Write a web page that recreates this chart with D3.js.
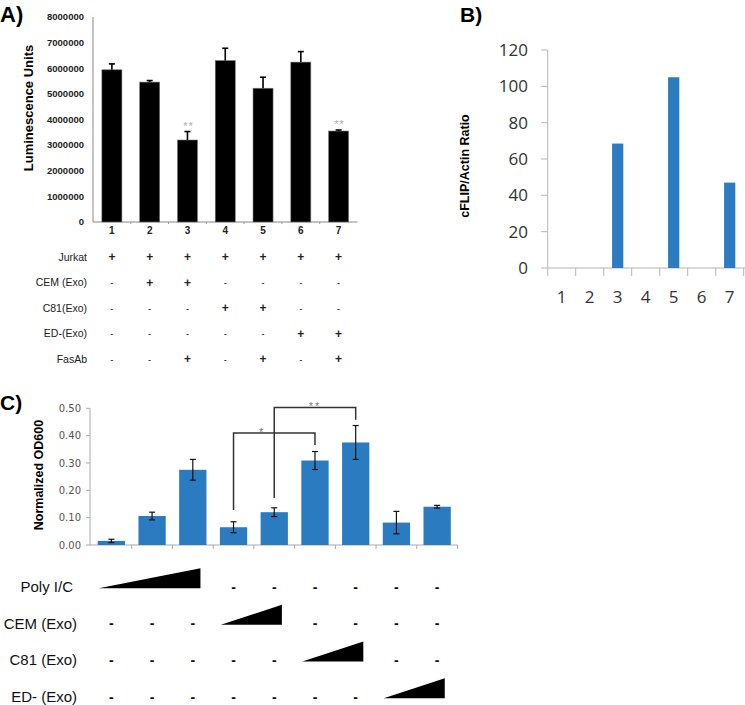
<!DOCTYPE html>
<html><head><meta charset="utf-8">
<script src="https://cdn.jsdelivr.net/npm/d3@7"></script>
<style>body{margin:0;background:#fff}svg{display:block}</style></head>
<body><svg id="c" width="745" height="705"></svg>
<script>
// ---------- Panel A data ----------
const aCats = ["1","2","3","4","5","6","7"];
const aValues = [5940000,5460000,3200000,6300000,5220000,6240000,3550000];
const aErrors = [230000,60000,330000,480000,430000,410000,40000];
const aYTicks = [0,1000000,2000000,3000000,4000000,5000000,6000000,7000000,8000000];
const aSig = ["","","**","","","","**"];
const aRowLabels = ["Jurkat","CEM (Exo)","C81(Exo)","ED-(Exo)","FasAb"];
const aRowJurkat = ["+","+","+","+","+","+","+"];
const aRowCEM    = ["-","+","+","-","-","-","-"];
const aRowC81    = ["-","-","-","+","+","-","-"];
const aRowED     = ["-","-","-","-","-","+","+"];
const aRowFas    = ["-","-","+","-","+","-","+"];

// ---------- Panel B data ----------
const bCats = ["1","2","3","4","5","6","7"];
const bValues = [0,0,68.5,0,105,0,47];
const bYTicks = [0,20,40,60,80,100,120];

// ---------- Panel C data ----------
const cCats = [0,1,2,3,4,5,6,7,8];
const cValues = [0.015,0.106,0.275,0.065,0.120,0.309,0.375,0.082,0.140];
const cErrors = [0.006,0.014,0.038,0.020,0.016,0.033,0.062,0.041,0.005];
const cYTicks = [0,0.1,0.2,0.3,0.4,0.5];
const cRowLabels = ["Poly I/C","CEM (Exo)","C81 (Exo)","ED- (Exo)"];
const cRampFirst = [0,3,5,7];
const cRampLast  = [2,4,6,8];
const cBracketFrom = [3,4];
const cBracketTo   = [5,6];
const cBracketTop  = [0.41,0.503];
const cBracketLeftEnd  = [0.128,0.172];
const cBracketRightEnd = [0.366,0.458];
const cBracketLabel = ["*","**"];

const svg = d3.select("#c");
const SANS = "'Liberation Sans', Arial, sans-serif";

// ================= Panel A =================
{
  const g = svg.append("g");
  const x = d3.scaleBand().domain(aCats).range([93,357.5]).paddingInner(0.47).paddingOuter(0.235);
  const y = d3.scaleLinear().domain([0,8000000]).range([222,17]);
  g.append("text").attr("x",0).attr("y",22).text("A)")
    .attr("font-family",SANS).attr("font-weight","bold").attr("font-size",22);
  g.append("line").attr("x1",93).attr("x2",93).attr("y1",17).attr("y2",222).attr("stroke","#888");
  g.selectAll(".yt").data(aYTicks).join("text")
    .attr("x",84).attr("y",d=>y(d)).attr("dy","0.35em").attr("text-anchor","end")
    .attr("font-family",SANS).attr("font-size",9.5).attr("font-weight","bold").attr("fill","#222")
    .text(d=>d);
  g.append("text").attr("transform","translate(33,108) rotate(-90)").attr("text-anchor","middle")
    .attr("font-family",SANS).attr("font-weight","bold").attr("font-size",13).text("Luminescence Units");
  g.append("line").attr("x1",93).attr("x2",357.5).attr("y1",222).attr("y2",222).attr("stroke","#888");
  g.selectAll(".xt").data(aCats.slice(1)).join("line")
    .attr("x1",d=>x(d)-x.step()*x.paddingInner()/2).attr("x2",d=>x(d)-x.step()*x.paddingInner()/2)
    .attr("y1",222).attr("y2",224).attr("stroke","#999");
  g.selectAll(".xl").data(aCats).join("text")
    .attr("x",d=>x(d)+x.bandwidth()/2).attr("y",234).attr("text-anchor","middle")
    .attr("font-family",SANS).attr("font-size",10).attr("font-weight","bold").attr("fill","#222").text(d=>d);
  g.selectAll(".bar").data(aValues).join("rect")
    .attr("x",(d,i)=>x(aCats[i])).attr("width",x.bandwidth())
    .attr("y",d=>y(d)).attr("height",d=>y(0)-y(d))
    .attr("fill","#000").attr("stroke","#777").attr("stroke-width",0.6);
  aValues.forEach((v,i)=>{
    const cx = x(aCats[i])+x.bandwidth()/2;
    g.append("line").attr("x1",cx).attr("x2",cx).attr("y1",y(v)).attr("y2",y(v+aErrors[i]))
      .attr("stroke","#000").attr("stroke-width",1.6);
    g.append("line").attr("x1",cx-3).attr("x2",cx+3).attr("y1",y(v+aErrors[i])).attr("y2",y(v+aErrors[i]))
      .attr("stroke","#000").attr("stroke-width",1.6);
    if (aSig[i]) g.append("text").attr("x",cx+1).attr("y",y(v+aErrors[i])-2).attr("text-anchor","middle")
      .attr("font-family",SANS).attr("font-size",11).attr("fill","#aaa").attr("letter-spacing",1).text(aSig[i]);
  });
  const rows = [aRowJurkat,aRowCEM,aRowC81,aRowED,aRowFas];
  const rowY = d3.scalePoint().domain(aRowLabels).range([257,359]);
  aRowLabels.forEach((lab,r)=>{
    g.append("text").attr("x",87).attr("y",rowY(lab)).attr("dy","0.35em").attr("text-anchor","end")
      .attr("font-family",SANS).attr("font-size",10.5).attr("fill","#222").text(lab);
    rows[r].forEach((s,i)=>{
      g.append("text").attr("x",x(aCats[i])+x.bandwidth()/2).attr("y",rowY(lab)).attr("dy","0.35em")
        .attr("text-anchor","middle").attr("font-family",SANS).attr("font-size",s==="+"?12:8)
        .attr("font-weight","bold").attr("fill","#222").text(s);
    });
  });
}

// ================= Panel B =================
{
  const g = svg.append("g");
  const x = d3.scaleBand().domain(bCats).range([547.7,743.7]).paddingInner(0.6).paddingOuter(0.3);
  const y = d3.scaleLinear().domain([0,120]).range([268,50]);
  g.append("text").attr("x",460).attr("y",22).text("B)")
    .attr("font-family",SANS).attr("font-weight","bold").attr("font-size",21);
  g.append("line").attr("x1",547.7).attr("x2",547.7).attr("y1",50).attr("y2",268).attr("stroke","#b5b5b5");
  g.selectAll(".ytk").data(bYTicks).join("line")
    .attr("x1",541).attr("x2",547.7).attr("y1",d=>y(d)).attr("y2",d=>y(d)).attr("stroke","#b5b5b5");
  g.selectAll(".yt").data(bYTicks).join("text")
    .attr("x",528).attr("y",d=>y(d)).attr("dy","0.36em").attr("text-anchor","end")
    .attr("font-family","'Open Sans', sans-serif").attr("font-size",17).attr("fill","#333").text(d=>d);
  g.append("line").attr("x1",547.7).attr("x2",745).attr("y1",268).attr("y2",268).attr("stroke","#b5b5b5");
  const bounds = bCats.map(c=>x(c)-x.step()*x.paddingOuter()).concat([743.7]);
  g.selectAll(".xtk").data(bounds).join("line")
    .attr("x1",d=>d).attr("x2",d=>d).attr("y1",268).attr("y2",276).attr("stroke","#b5b5b5");
  g.selectAll(".xl").data(bCats).join("text")
    .attr("x",d=>x(d)+x.bandwidth()/2).attr("y",303).attr("text-anchor","middle")
    .attr("font-family","'Open Sans', sans-serif").attr("font-size",17).attr("fill","#333").text(d=>d);
  g.selectAll(".bar").data(bValues).join("rect")
    .attr("x",(d,i)=>x(bCats[i])).attr("width",x.bandwidth())
    .attr("y",d=>y(d)).attr("height",d=>y(0)-y(d)).attr("fill","#2b7bc0");
  g.append("text").attr("transform","translate(469,166) rotate(-90)").attr("text-anchor","middle")
    .attr("font-family",SANS).attr("font-weight","bold").attr("font-size",12.5).text("cFLIP/Actin Ratio");
}

// ================= Panel C =================
{
  const g = svg.append("g");
  const x = d3.scaleBand().domain(cCats).range([91,457.5]).paddingInner(0.33).paddingOuter(0.165);
  const y = d3.scaleLinear().domain([0,0.5]).range([545,408.3]);
  const cx = i => x(i)+x.bandwidth()/2;
  g.append("text").attr("x",0).attr("y",410).text("C)")
    .attr("font-family",SANS).attr("font-weight","bold").attr("font-size",21);
  g.append("line").attr("x1",90).attr("x2",90).attr("y1",408.3).attr("y2",545).attr("stroke","#aaa");
  g.selectAll(".ytk").data(cYTicks).join("line")
    .attr("x1",86).attr("x2",90).attr("y1",d=>y(d)).attr("y2",d=>y(d)).attr("stroke","#aaa");
  g.selectAll(".yt").data(cYTicks).join("text")
    .attr("x",81).attr("y",d=>y(d)).attr("dy","0.36em").attr("text-anchor","end")
    .attr("font-family","'DejaVu Sans', Verdana, sans-serif").attr("font-size",10).attr("fill","#555")
    .text(d=>d.toFixed(2));
  g.append("text").attr("transform","translate(43,475) rotate(-90)").attr("text-anchor","middle")
    .attr("font-family",SANS).attr("font-weight","bold").attr("font-size",12.5).text("Normalized OD600");
  g.append("line").attr("x1",90).attr("x2",457.5).attr("y1",545).attr("y2",545).attr("stroke","#aaa");
  const bounds = cCats.map(c=>x(c)-x.step()*x.paddingOuter()).concat([457.5]);
  g.selectAll(".xtk").data(bounds.slice(1)).join("line")
    .attr("x1",d=>d).attr("x2",d=>d).attr("y1",545).attr("y2",549).attr("stroke","#aaa");
  g.selectAll(".bar").data(cValues).join("rect")
    .attr("x",(d,i)=>x(i)).attr("width",x.bandwidth())
    .attr("y",d=>y(d)).attr("height",d=>y(0)-y(d)).attr("fill","#2b7bc0");
  cValues.forEach((v,i)=>{
    const e = cErrors[i];
    g.append("line").attr("x1",cx(i)).attr("x2",cx(i)).attr("y1",y(v-e)).attr("y2",y(v+e)).attr("stroke","#111").attr("stroke-width",1.2);
    [v-e,v+e].forEach(t=>g.append("line").attr("x1",cx(i)-3).attr("x2",cx(i)+3).attr("y1",y(t)).attr("y2",y(t)).attr("stroke","#111").attr("stroke-width",1.2));
  });
  cBracketFrom.forEach((f,k)=>{
    const t = cBracketTo[k];
    g.append("path").attr("fill","none").attr("stroke","#333").attr("stroke-width",1.5)
      .attr("d",`M${cx(f)},${y(cBracketLeftEnd[k])}V${y(cBracketTop[k])}H${cx(t)}V${y(cBracketRightEnd[k])}`);
    // place label away from any crossing bracket leg
    const crossed = cBracketFrom.some((f2,k2)=>k2!==k && cx(f2)>cx(f) && cx(f2)<cx(t));
    const lx = crossed ? cx(f)*0.65+cx(t)*0.35 : (cx(f)+cx(t))/2;
    g.append("text").attr("x",lx).attr("y",y(cBracketTop[k])+3).attr("text-anchor","middle")
      .attr("font-family",SANS).attr("font-size",11).attr("letter-spacing",2).attr("fill","#777").text(cBracketLabel[k]);
  });
  const rowY = d3.scalePoint().domain(cRowLabels).range([586.7,696.7]);
  cRowLabels.forEach((lab,r)=>{
    const ry = rowY(lab);
    g.append("text").attr("x",r===0?73:77).attr("y",ry).attr("dy","0.35em").attr("text-anchor","end")
      .attr("font-family",SANS).attr("font-size",15).attr("fill","#111").text(lab);
    const a = cRampFirst[r], b = cRampLast[r];
    const x0 = x(a)+1, x1 = x(b)+x.bandwidth()-6;
    g.append("path").attr("fill","#000")
      .attr("d",`M${x0},${ry+1.5}L${x1},${ry-18.5}L${x1},${ry+1.5}Z`);
    cCats.forEach(i=>{
      if (i>=a && i<=b) return;
      g.append("text").attr("x",cx(i)).attr("y",ry).attr("dy","0.35em").attr("text-anchor","middle")
        .attr("font-family",SANS).attr("font-size",14).attr("font-weight","bold").attr("fill","#111").text("-");
    });
  });
}
</script></body></html>
